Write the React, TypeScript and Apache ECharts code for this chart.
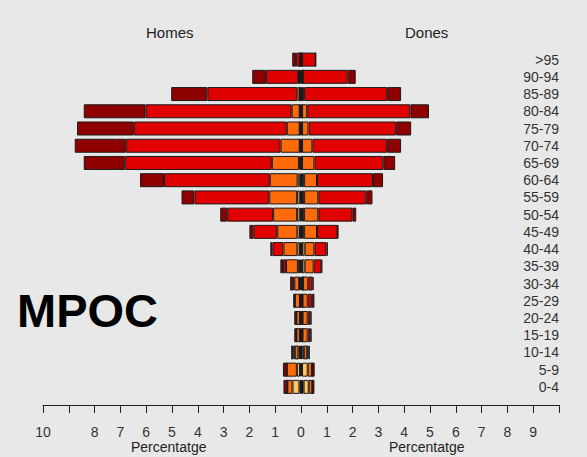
import React, { useEffect, useRef } from "react";
import * as echarts from "echarts";

// Age groups, bottom to top
const ages = ["0-4","5-9","10-14","15-19","20-24","25-29","30-34","35-39","40-44","45-49","50-54","55-59","60-64","65-69","70-74","75-79","80-84","85-89","90-94",">95"];

// Men (Homes) – percentage per segment, from centre outward
const menA = [0.06,0.04,0.04,0.04,0.04,0.04,0.04,0.04,0.04,0.04,0.05,0.05,0.05,0.05,0.05,0.05,0.05,0.04,0.07,0.04];
const menB = [0.27,0.12,0.06,0,0,0,0.03,0.08,0.1,0.1,0.1,0.1,0.08,0.03,0,0,0,0,0,0];
const menC = [0.2,0.39,0.14,0.14,0.14,0.2,0.19,0.46,0.54,0.78,0.93,1.08,1.08,1.05,0.74,0.5,0.31,0.1,0.04,0];
const menD = [0,0,0.06,0,0,0,0.04,0.12,0.43,0.93,1.78,2.9,4.1,5.7,6.0,5.93,5.66,3.49,1.24,0.15];
const menE = [0.15,0.15,0.08,0.08,0.08,0.06,0.12,0.1,0.08,0.15,0.27,0.5,0.93,1.59,1.98,2.2,2.4,1.4,0.54,0.15];

// Women (Dones)
const womA = [0.1,0.04,0.05,0.06,0.06,0.06,0.08,0.04,0.04,0.04,0.04,0.04,0.04,0.04,0.04,0.04,0.04,0.04,0.07,0.04];
const womB = [0.2,0.22,0.06,0,0,0,0,0.1,0.1,0.08,0.08,0.08,0.08,0,0,0,0,0,0,0];
const womC = [0.14,0.17,0.13,0.2,0.2,0.2,0.2,0.35,0.38,0.5,0.55,0.55,0.5,0.48,0.4,0.25,0.2,0.08,0,0];
const womD = [0,0,0.05,0.1,0.1,0.16,0.16,0.3,0.47,0.8,1.32,1.86,2.17,2.67,2.9,3.4,4.0,3.22,1.74,0.53];
const womE = [0.08,0.1,0.05,0.05,0.05,0.1,0.05,0.03,0.05,0.02,0.15,0.24,0.39,0.46,0.54,0.58,0.72,0.54,0.31,0];

const segColors = ["#1a0500", "#FFC466", "#FF6A0A", "#E00000", "#8E0000"];

const xTicks = [-10,-9,-8,-7,-6,-5,-4,-3,-2,-1,0,1,2,3,4,5,6,7,8,9,10];
const hiddenTicks = [-9, 10];

export default function App() {
  const ref = useRef<HTMLDivElement>(null);
  useEffect(() => {
    if (!ref.current) return;
    const chart = echarts.init(ref.current, null, { renderer: "svg" });
    const men = [menA, menB, menC, menD, menE];
    const wom = [womA, womB, womC, womD, womE];
    const series: any[] = [];
    men.forEach((arr, i) => {
      series.push({
        type: "bar",
        stack: "all",
        barWidth: 14,
        data: arr.map((v) => -v),
        itemStyle: { color: segColors[i], borderColor: "#1a1a1a", borderWidth: 1 },
        silent: true,
      });
    });
    wom.forEach((arr, i) => {
      series.push({
        type: "bar",
        stack: "all",
        barWidth: 14,
        data: arr.slice(),
        itemStyle: { color: segColors[i], borderColor: "#1a1a1a", borderWidth: 1 },
        silent: true,
      });
    });
    const font = "Liberation Sans, Arial, sans-serif";
    chart.setOption({
      animation: false,
      backgroundColor: "#E8E8E8",
      grid: { left: 43, right: 28, top: 51, bottom: 61.5, containLabel: false },
      xAxis: {
        type: "value",
        min: xTicks[0],
        max: xTicks[xTicks.length - 1],
        interval: 1,
        offset: 9.5,
        axisLine: { show: true, lineStyle: { color: "#222", width: 1 } },
        axisTick: { show: true, length: 8, lineStyle: { color: "#222" } },
        splitLine: { show: false },
        axisLabel: {
          margin: 20,
          fontSize: 14,
          color: "#333",
          fontFamily: font,
          formatter: (v: number) => (hiddenTicks.includes(v) ? "" : String(Math.abs(v))),
        },
      },
      yAxis: {
        type: "category",
        data: ages,
        position: "right",
        axisLine: { show: false },
        axisTick: { show: false },
        splitLine: { show: false },
        axisLabel: { inside: true, interval: 0, margin: 0, fontSize: 14, color: "#333", fontFamily: font },
      },
      graphic: [
        { type: "text", left: 146, top: 25, style: { text: "Homes", fontSize: 15, fill: "#222", fontFamily: font } },
        { type: "text", left: 405, top: 25, style: { text: "Dones", fontSize: 15, fill: "#222", fontFamily: font } },
        { type: "text", left: 131, top: 440, style: { text: "Percentatge", fontSize: 14, fill: "#222", fontFamily: font } },
        { type: "text", left: 389, top: 440, style: { text: "Percentatge", fontSize: 14, fill: "#222", fontFamily: font } },
        { type: "text", left: 17, top: 287, style: { text: "MPOC", fontSize: 47, fontWeight: "bold", fill: "#000", fontFamily: font } },
      ],
      series,
    });
    return () => chart.dispose();
  }, []);
  return <div ref={ref} style={{ position: "fixed", left: 0, top: 0, width: 587, height: 457 }} />;
}
